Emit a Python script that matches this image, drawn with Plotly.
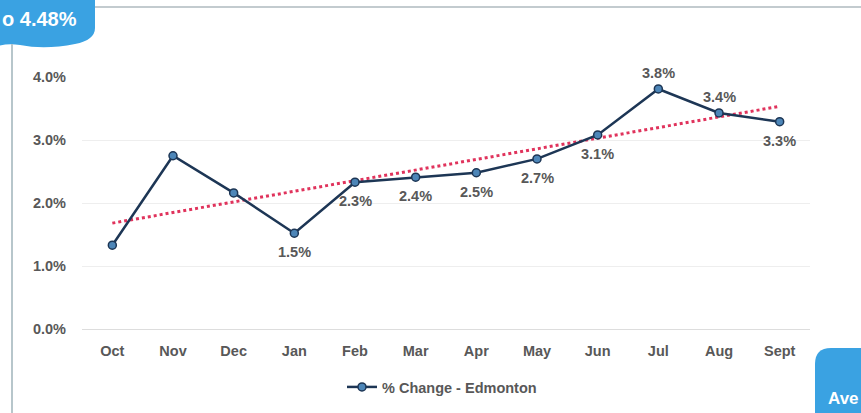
import plotly.graph_objects as go
import numpy as np

months = ["Oct", "Nov", "Dec", "Jan", "Feb", "Mar", "Apr", "May", "Jun", "Jul", "Aug", "Sept"]
pct_change = [1.33, 2.75, 2.16, 1.52, 2.33, 2.41, 2.48, 2.70, 3.08, 3.81, 3.43, 3.29]
point_labels = ["", "", "", "1.5%", "2.3%", "2.4%", "2.5%", "2.7%", "3.1%", "3.8%", "3.4%", "3.3%"]
label_side = ["", "", "", "below", "below", "below", "below", "below", "below", "above", "above", "below"]
y_ticks = [0, 1, 2, 3, 4]
y_tick_text = ["0.0%", "1.0%", "2.0%", "3.0%", "4.0%"]
series_name = "% Change - Edmonton"
badge_left_text = "o 4.48%"
badge_right_text = "Ave"

W, H = 861, 413
ML, MR, MT, MB = 82, 51, 77, 84
PW, PH = W - ML - MR, H - MT - MB

def px(x):
    return (x - ML) / PW

def py(y):
    return 1 - (y - MT) / PH

idx = np.arange(len(pct_change))
slope, intercept = np.polyfit(idx, pct_change, 1)
trend = slope * idx + intercept

fig = go.Figure()
fig.add_trace(go.Scatter(
    x=months, y=trend, mode="lines", showlegend=False,
    line=dict(color="#e0335c", width=3, dash="dot"), hoverinfo="skip"))
fig.add_trace(go.Scatter(
    x=months, y=pct_change, mode="lines+markers", name=series_name,
    line=dict(color="#1d3655", width=2.5),
    marker=dict(symbol="circle", size=8, color="#4d86b8", line=dict(color="#1d3655", width=1.5))))

FAM = "Liberation Sans, Arial, sans-serif"
font_lbl = dict(family=FAM, size=14.5, color="#585858", weight="bold")

for m, v, lab, side in zip(months, pct_change, point_labels, label_side):
    if not lab:
        continue
    fig.add_annotation(x=m, y=v, text=lab, showarrow=False, font=font_lbl,
                       yshift=(-19 if side == "below" else 16))

# Badges and frame
fig.add_shape(type="path", xref="paper", yref="paper", layer="above",
              path=(f"M {px(-2)},{py(-2)} L {px(95)},{py(-2)} L {px(95)},{py(28)} "
                    f"Q {px(95)},{py(40)} {px(75)},{py(44)} Q {px(45)},{py(50)} {px(20)},{py(45)} "
                    f"Q {px(8)},{py(43)} {px(-2)},{py(46)} Z"),
              fillcolor="#3aa2e2", line=dict(width=0))
fig.add_annotation(xref="paper", yref="paper", x=px(79), y=py(19), xanchor="right", yanchor="middle",
                   text=badge_left_text, showarrow=False,
                   font=dict(family=FAM, size=20, color="white", weight="bold"))
fig.add_shape(type="path", xref="paper", yref="paper", layer="above",
              path=(f"M {px(815)},{py(415)} L {px(815)},{py(364)} Q {px(815)},{py(348)} {px(831)},{py(348)} "
                    f"L {px(863)},{py(348)} L {px(863)},{py(415)} Z"),
              fillcolor="#3aa2e2", line=dict(width=0))
fig.add_annotation(xref="paper", yref="paper", x=px(826), y=py(398), xanchor="left", yanchor="middle",
                   text=badge_right_text, showarrow=False,
                   font=dict(family=FAM, size=17, color="white", weight="bold"))
fig.add_shape(type="line", xref="paper", yref="paper", x0=px(12), x1=px(12), y0=py(44), y1=py(413),
              line=dict(color="#b7c6cb", width=2))
fig.add_shape(type="line", xref="paper", yref="paper", x0=px(95), x1=px(861), y0=py(7), y1=py(7),
              line=dict(color="#c3cbcf", width=2))

fig.update_layout(
    width=W, height=H,
    margin=dict(l=ML, r=MR, t=MT, b=MB, autoexpand=False),
    paper_bgcolor="white", plot_bgcolor="white",
    showlegend=True,
    legend=dict(orientation="h", x=px(442), xanchor="center", y=py(387), yanchor="middle",
                font=font_lbl, bgcolor="rgba(0,0,0,0)", itemwidth=30),
    xaxis=dict(showgrid=False, showline=True, linecolor="#dddddd", linewidth=1,
               tickfont=font_lbl, ticks="", ticklabelstandoff=9,
               range=[-0.5, len(months) - 0.5]),
    yaxis=dict(range=[0, 4.0], tickvals=y_ticks, ticktext=y_tick_text,
               showgrid=True, gridcolor="#eeeeee", gridwidth=1, zeroline=False,
               tickfont=font_lbl, ticklabelstandoff=15),
)

fig.write_html("out.html", config={"displayModeBar": False},
               post_script="document.body.style.margin='0';")
